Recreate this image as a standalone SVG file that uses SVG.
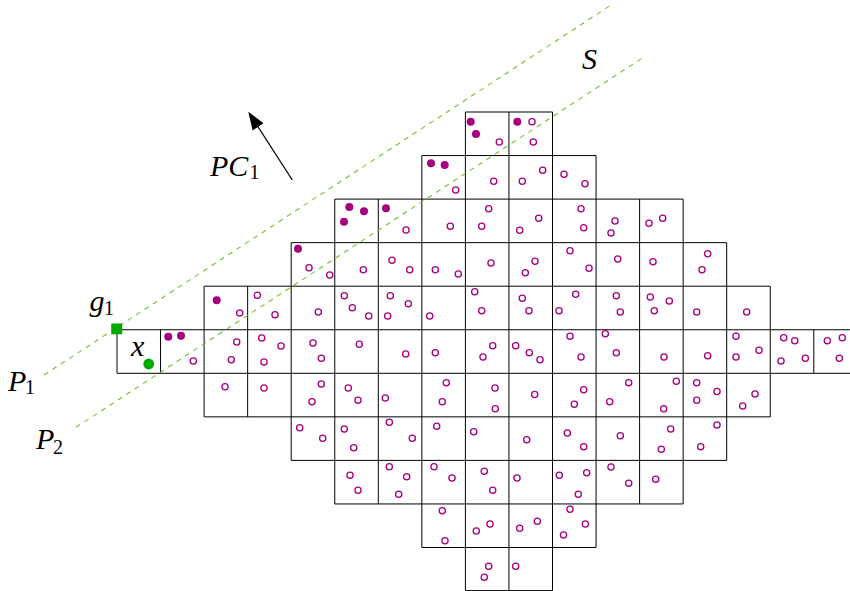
<svg xmlns="http://www.w3.org/2000/svg" width="850" height="591" viewBox="0 0 850 591">
<style>
.grid{fill:none;stroke:#000;stroke-width:1}
.o{fill:#fff;stroke:#A6007F;stroke-width:1.3}
.f{fill:#A6007F}
.dash{fill:none;stroke:#78BE30;stroke-width:1.1;stroke-dasharray:5 5}
.lbl{font-family:"Liberation Serif","DejaVu Serif",serif;font-style:italic;font-size:30px;fill:#000}
.sub{font-family:"Liberation Serif","DejaVu Serif",serif;font-size:20px;fill:#000}
</style>
<rect width="850" height="591" fill="#fff"/>
<g id="grid">
<path class="grid" d="M465.4,112H552.5M421.85,155.55H596.05M334.75,199.1H683.15M291.2,242.65H726.7M204.1,286.2H770.25M117,329.75H857.35M117,373.3H857.35M204.1,416.85H770.25M291.2,460.4H726.7M334.75,503.95H683.15M421.85,547.5H596.05M465.4,590.6H552.5
M117,329.75V373.3M160.55,329.75V373.3M204.1,286.2V416.85M247.65,286.2V416.85M291.2,242.65V460.4M334.75,199.1V503.95M378.3,199.1V503.95M421.85,155.55V547.5M465.4,112V590.6M508.95,112V590.6M552.5,112V590.6M596.05,155.55V547.5M639.6,199.1V503.95M683.15,199.1V503.95M726.7,242.65V460.4M770.25,286.2V416.85M813.8,329.75V373.3"/>
</g>
<g id="connectors">
<line class="dash" x1="44" y1="375" x2="610" y2="5.7"/>
<line class="dash" x1="76" y1="427.3" x2="642" y2="58.3"/>
<line x1="292.3" y1="180" x2="257.5" y2="126" stroke="#000" stroke-width="1.3"/>
<polygon points="248.3,111.7 263.5,123.3 252.6,130.4" fill="#000"/>
</g>
<g id="points-filled">
<circle class="f" cx="470.7" cy="121.7" r="4"/>
<circle class="f" cx="476" cy="134" r="4"/>
<circle class="f" cx="517.3" cy="121.7" r="4"/>
<circle class="f" cx="431" cy="163.3" r="4"/>
<circle class="f" cx="444.7" cy="165" r="4"/>
<circle class="f" cx="349.3" cy="207" r="4"/>
<circle class="f" cx="364" cy="211.3" r="4"/>
<circle class="f" cx="344" cy="221.7" r="4"/>
<circle class="f" cx="386" cy="208.3" r="4"/>
<circle class="f" cx="298" cy="248.7" r="4"/>
<circle class="f" cx="216.7" cy="300.3" r="4"/>
<circle class="f" cx="168.3" cy="336.7" r="4"/>
<circle class="f" cx="181" cy="335.7" r="4"/>
</g>
<g id="points-open">
<circle class="o" cx="499.3" cy="142" r="3.1"/><circle class="o" cx="532" cy="121.7" r="3.1"/><circle class="o" cx="533.3" cy="142" r="3.1"/>
<circle class="o" cx="455.7" cy="190" r="3.1"/><circle class="o" cx="493.7" cy="181.3" r="3.1"/><circle class="o" cx="522.3" cy="181.3" r="3.1"/><circle class="o" cx="542.7" cy="170.3" r="3.1"/><circle class="o" cx="564" cy="174.3" r="3.1"/><circle class="o" cx="585" cy="183.7" r="3.1"/>
<circle class="o" cx="406" cy="230" r="3.1"/><circle class="o" cx="450.3" cy="226.3" r="3.1"/><circle class="o" cx="488.7" cy="208.7" r="3.1"/><circle class="o" cx="481.7" cy="226.3" r="3.1"/><circle class="o" cx="538.7" cy="218.3" r="3.1"/><circle class="o" cx="519.7" cy="230.3" r="3.1"/><circle class="o" cx="581" cy="208.7" r="3.1"/><circle class="o" cx="583.7" cy="227.7" r="3.1"/><circle class="o" cx="615" cy="221" r="3.1"/><circle class="o" cx="611" cy="233" r="3.1"/><circle class="o" cx="649" cy="223.3" r="3.1"/><circle class="o" cx="662.7" cy="218.3" r="3.1"/>
<circle class="o" cx="309" cy="267.7" r="3.1"/><circle class="o" cx="329.7" cy="275" r="3.1"/><circle class="o" cx="363.3" cy="269.7" r="3.1"/><circle class="o" cx="392" cy="260.3" r="3.1"/><circle class="o" cx="409.7" cy="269.7" r="3.1"/><circle class="o" cx="435.3" cy="269.7" r="3.1"/><circle class="o" cx="458.3" cy="274" r="3.1"/><circle class="o" cx="491" cy="263" r="3.1"/><circle class="o" cx="535" cy="261.3" r="3.1"/><circle class="o" cx="525.3" cy="272.7" r="3.1"/><circle class="o" cx="570" cy="250.7" r="3.1"/><circle class="o" cx="589" cy="268.3" r="3.1"/><circle class="o" cx="617.7" cy="259" r="3.1"/><circle class="o" cx="653" cy="261.7" r="3.1"/><circle class="o" cx="707.7" cy="253.7" r="3.1"/><circle class="o" cx="702" cy="269.7" r="3.1"/>
<circle class="o" cx="239.7" cy="313" r="3.1"/><circle class="o" cx="257.3" cy="295.3" r="3.1"/><circle class="o" cx="275" cy="314.7" r="3.1"/><circle class="o" cx="318.3" cy="312" r="3.1"/><circle class="o" cx="344.3" cy="295.7" r="3.1"/><circle class="o" cx="352.3" cy="307.7" r="3.1"/><circle class="o" cx="368.7" cy="316" r="3.1"/><circle class="o" cx="390.3" cy="295.7" r="3.1"/><circle class="o" cx="408.3" cy="303.7" r="3.1"/><circle class="o" cx="387.7" cy="316" r="3.1"/><circle class="o" cx="429.7" cy="316" r="3.1"/><circle class="o" cx="474.7" cy="291.7" r="3.1"/><circle class="o" cx="481.7" cy="310.7" r="3.1"/><circle class="o" cx="522.3" cy="298.3" r="3.1"/><circle class="o" cx="529" cy="310.7" r="3.1"/><circle class="o" cx="559" cy="310.7" r="3.1"/><circle class="o" cx="575.7" cy="294.3" r="3.1"/><circle class="o" cx="616.3" cy="295.7" r="3.1"/><circle class="o" cx="620.3" cy="312" r="3.1"/><circle class="o" cx="650.3" cy="297" r="3.1"/><circle class="o" cx="669.3" cy="301" r="3.1"/><circle class="o" cx="654.3" cy="310.7" r="3.1"/><circle class="o" cx="696.7" cy="312" r="3.1"/><circle class="o" cx="746.7" cy="312" r="3.1"/>
<circle class="o" cx="193.3" cy="361" r="3.1"/><circle class="o" cx="236.7" cy="342" r="3.1"/><circle class="o" cx="231.3" cy="359.7" r="3.1"/><circle class="o" cx="261.7" cy="338" r="3.1"/><circle class="o" cx="264" cy="362" r="3.1"/><circle class="o" cx="281" cy="346" r="3.1"/><circle class="o" cx="313" cy="343" r="3.1"/><circle class="o" cx="321.3" cy="358.3" r="3.1"/><circle class="o" cx="359.3" cy="344.3" r="3.1"/><circle class="o" cx="405.7" cy="354" r="3.1"/><circle class="o" cx="435.3" cy="352.7" r="3.1"/><circle class="o" cx="492.7" cy="345.7" r="3.1"/><circle class="o" cx="483" cy="357" r="3.1"/><circle class="o" cx="515.7" cy="345.7" r="3.1"/><circle class="o" cx="529.3" cy="352.7" r="3.1"/><circle class="o" cx="540" cy="359.7" r="3.1"/><circle class="o" cx="570" cy="336.3" r="3.1"/><circle class="o" cx="581" cy="357" r="3.1"/><circle class="o" cx="605.3" cy="333.7" r="3.1"/><circle class="o" cx="616.3" cy="352.7" r="3.1"/><circle class="o" cx="664" cy="357" r="3.1"/><circle class="o" cx="707.7" cy="355.7" r="3.1"/><circle class="o" cx="736" cy="336.3" r="3.1"/><circle class="o" cx="736" cy="357" r="3.1"/><circle class="o" cx="759" cy="350.3" r="3.1"/><circle class="o" cx="783.7" cy="337.7" r="3.1"/><circle class="o" cx="794.7" cy="340.7" r="3.1"/><circle class="o" cx="781" cy="361" r="3.1"/><circle class="o" cx="805.3" cy="358.3" r="3.1"/><circle class="o" cx="827.3" cy="340.7" r="3.1"/><circle class="o" cx="842.3" cy="337.7" r="3.1"/><circle class="o" cx="839.3" cy="358.3" r="3.1"/>
<circle class="o" cx="225" cy="386.7" r="3.1"/><circle class="o" cx="264" cy="388" r="3.1"/><circle class="o" cx="321.3" cy="384" r="3.1"/><circle class="o" cx="312" cy="401.7" r="3.1"/><circle class="o" cx="348.3" cy="388" r="3.1"/><circle class="o" cx="358" cy="400.3" r="3.1"/><circle class="o" cx="385.3" cy="398" r="3.1"/><circle class="o" cx="446.3" cy="382.7" r="3.1"/><circle class="o" cx="442.3" cy="401.7" r="3.1"/><circle class="o" cx="495" cy="388" r="3.1"/><circle class="o" cx="495.3" cy="408.7" r="3.1"/><circle class="o" cx="534.7" cy="394.5" r="3.1"/><circle class="o" cx="583.7" cy="389.7" r="3.1"/><circle class="o" cx="574.3" cy="404.3" r="3.1"/><circle class="o" cx="628.7" cy="382.7" r="3.1"/><circle class="o" cx="609.7" cy="401.7" r="3.1"/><circle class="o" cx="676.3" cy="381.3" r="3.1"/><circle class="o" cx="663.7" cy="408.7" r="3.1"/><circle class="o" cx="696.7" cy="382.7" r="3.1"/><circle class="o" cx="717" cy="391.5" r="3.1"/><circle class="o" cx="696.7" cy="400.3" r="3.1"/><circle class="o" cx="755" cy="394" r="3.1"/><circle class="o" cx="742.7" cy="406" r="3.1"/>
<circle class="o" cx="299.7" cy="427.7" r="3.1"/><circle class="o" cx="322.7" cy="438.3" r="3.1"/><circle class="o" cx="344.3" cy="429" r="3.1"/><circle class="o" cx="353.7" cy="447.7" r="3.1"/><circle class="o" cx="389.3" cy="422.3" r="3.1"/><circle class="o" cx="412.3" cy="438.3" r="3.1"/><circle class="o" cx="436.7" cy="426.3" r="3.1"/><circle class="o" cx="473.7" cy="431.7" r="3.1"/><circle class="o" cx="526.7" cy="439.7" r="3.1"/><circle class="o" cx="567.3" cy="433" r="3.1"/><circle class="o" cx="583.7" cy="446.7" r="3.1"/><circle class="o" cx="620.3" cy="435.7" r="3.1"/><circle class="o" cx="670.7" cy="429" r="3.1"/><circle class="o" cx="661.3" cy="449.3" r="3.1"/><circle class="o" cx="717" cy="425" r="3.1"/><circle class="o" cx="700.7" cy="446.7" r="3.1"/>
<circle class="o" cx="350" cy="475.3" r="3.1"/><circle class="o" cx="358" cy="490.3" r="3.1"/><circle class="o" cx="389.3" cy="466.7" r="3.1"/><circle class="o" cx="406.7" cy="476.7" r="3.1"/><circle class="o" cx="398.7" cy="494.3" r="3.1"/><circle class="o" cx="434" cy="466.7" r="3.1"/><circle class="o" cx="452" cy="478" r="3.1"/><circle class="o" cx="484.3" cy="471.3" r="3.1"/><circle class="o" cx="492.7" cy="490.3" r="3.1"/><circle class="o" cx="517" cy="478" r="3.1"/><circle class="o" cx="559.3" cy="475.3" r="3.1"/><circle class="o" cx="586.7" cy="472.7" r="3.1"/><circle class="o" cx="578.3" cy="494.3" r="3.1"/><circle class="o" cx="611" cy="467" r="3.1"/><circle class="o" cx="628.7" cy="483.3" r="3.1"/><circle class="o" cx="655.7" cy="479.3" r="3.1"/>
<circle class="o" cx="442.3" cy="510.7" r="3.1"/><circle class="o" cx="445" cy="540.7" r="3.1"/><circle class="o" cx="476.3" cy="531" r="3.1"/><circle class="o" cx="490" cy="524" r="3.1"/><circle class="o" cx="519.7" cy="528.3" r="3.1"/><circle class="o" cx="537.3" cy="521.3" r="3.1"/><circle class="o" cx="570" cy="509.3" r="3.1"/><circle class="o" cx="585.3" cy="524" r="3.1"/><circle class="o" cx="563.5" cy="535" r="3.1"/>
<circle class="o" cx="488.7" cy="566.3" r="3.1"/><circle class="o" cx="484.3" cy="577.3" r="3.1"/><circle class="o" cx="515.7" cy="566.3" r="3.1"/>
</g>
<g id="g1">
<rect x="111.2" y="323.5" width="11" height="10.8" fill="#00AA00"/>
<text class="lbl" x="89.5" y="310.5">g</text><text class="sub" x="104" y="314.5">1</text>
</g>
<g id="x">
<circle cx="148.7" cy="364" r="5.4" fill="#00AA00"/>
<text class="lbl" x="131" y="356">x</text>
</g>
<g id="PC1">
<text class="lbl" x="210" y="175.5">PC</text><text class="sub" x="249.5" y="179">1</text>
</g>
<g id="S"><text class="lbl" x="582" y="69">S</text></g>
<g id="P1"><text class="lbl" x="8" y="390.5">P</text><text class="sub" x="25" y="394">1</text></g>
<g id="P2"><text class="lbl" x="36" y="449">P</text><text class="sub" x="53" y="453.5">2</text></g>
</svg>
